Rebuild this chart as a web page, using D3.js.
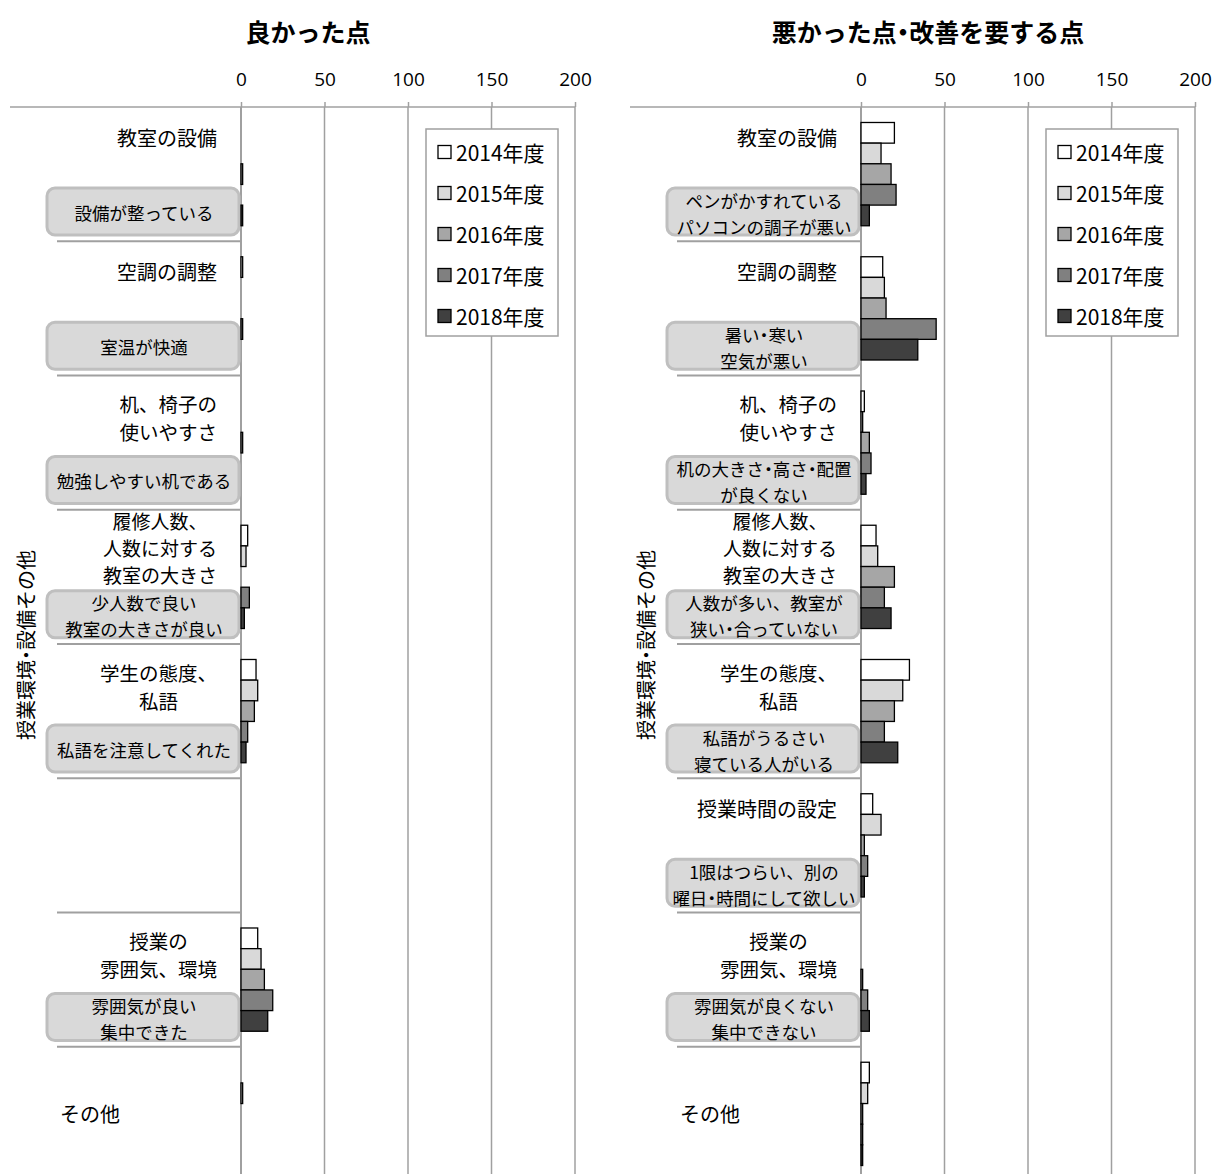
<!DOCTYPE html>
<html>
<head>
<meta charset="utf-8">
<script src="https://cdn.jsdelivr.net/npm/d3@7"></script>
<style>
  body { margin: 0; background: #fff; }
  text { font-family: "Noto Sans CJK JP", "Noto Sans", sans-serif; fill: #000; }
  .narrow { font-feature-settings: "halt"; }
</style>
</head>
<body>
<div id="holder"></div>
<script>
// ---- data ----
const years = ["2014年度", "2015年度", "2016年度", "2017年度", "2018年度"];
const yearColors = ["#ffffff", "#d9d9d9", "#a6a6a6", "#808080", "#404040"];

const categories = [
  "教室の設備", "空調の調整", "机、椅子の\n使いやすさ", "履修人数、\n人数に対する\n教室の大きさ",
  "学生の態度、\n私語", "授業時間の設定", "授業の\n雰囲気、環境", "その他"
];
const goodShown = [true, true, true, true, true, false, true, true];

const goodNotes = [
  "設備が整っている", "室温が快適", "勉強しやすい机である", "少人数で良い\n教室の大きさが良い",
  "私語を注意してくれた", "", "雰囲気が良い\n集中できた", ""
];
const badNotes = [
  "ペンがかすれている\nパソコンの調子が悪い", "暑い・寒い\n空気が悪い", "机の大きさ・高さ・配置\nが良くない",
  "人数が多い、教室が\n狭い・合っていない", "私語がうるさい\n寝ている人がいる",
  "1限はつらい、別の\n曜日・時間にして欲しい", "雰囲気が良くない\n集中できない", ""
];

const good2014 = [0, 1, 0, 4, 9, 0, 10, 0];
const good2015 = [0, 0, 0, 3, 10, 0, 12, 1];
const good2016 = [1, 0, 1, 0, 8, 0, 14, 0];
const good2017 = [0, 1, 0, 5, 4, 0, 19, 0];
const good2018 = [1, 0, 0, 2, 3, 0, 16, 0];

const bad2014 = [20, 13, 2, 9, 29, 7, 0, 5];
const bad2015 = [12, 14, 1, 10, 25, 12, 0, 4];
const bad2016 = [18, 15, 5, 20, 20, 2, 1, 1];
const bad2017 = [21, 45, 6, 14, 14, 4, 4, 1];
const bad2018 = [5, 34, 3, 18, 22, 2, 5, 1];

const xTicks = [0, 50, 100, 150, 200];
const sideLabel = "授業環境・設備その他";

// ---- layout ----
const width = 1216, height = 1174;
const axisY = 107;

const svg = d3.select("#holder").append("svg")
  .attr("width", width)
  .attr("height", height);

const y = d3.scaleBand().domain(categories).range([axisY, 1181]);
const yInner = d3.scaleBand().domain(years).range([0, y.bandwidth()]).paddingInner(0).paddingOuter(0.75);

// half-width middle dot, like the original font
function fillText(t, str) {
  str.split("・").forEach((p, i) => {
    if (i > 0) t.append("tspan").attr("class", "narrow").text("・");
    if (p) t.append("tspan").text(p);
  });
  return t;
}

function drawPanel(x0, title, series, notes, shown) {
  const x = d3.scaleLinear().domain([0, 200]).range([x0, x0 + 334]);
  const g = svg.append("g");

  // title
  fillText(g.append("text")
    .attr("x", x0 + 67).attr("y", 31)
    .attr("text-anchor", "middle").attr("dominant-baseline", "central")
    .style("font-size", "25px").style("font-weight", "bold"), title);

  // grid lines
  g.selectAll(".grid").data(xTicks).enter().append("line")
    .attr("x1", d => x(d)).attr("x2", d => x(d))
    .attr("y1", axisY).attr("y2", height)
    .attr("stroke", "#a0a0a0").attr("stroke-width", d => d === 0 ? 2 : 1.5);

  // axis
  const axis = d3.axisTop(x).tickValues(xTicks).tickSize(5).tickFormat(d3.format("d"));
  const ag = g.append("g").attr("transform", `translate(0,${axisY})`).call(axis);
  ag.select(".domain").remove();
  ag.selectAll(".tick line").attr("stroke", "#a0a0a0").attr("stroke-width", 1.5);
  ag.selectAll(".tick text")
    .attr("y", -28).attr("dy", null).attr("dominant-baseline", "central")
    .style("font-size", "19px").style("font-family", "'Open Sans', sans-serif").attr("fill", "#000");

  g.append("line")
    .attr("x1", x0 - 231).attr("x2", x(200))
    .attr("y1", axisY).attr("y2", axisY)
    .attr("stroke", "#a0a0a0").attr("stroke-width", 1.5);

  // category separators
  g.selectAll(".sep").data(categories.slice(1)).enter().append("line")
    .attr("x1", x0 - 184).attr("x2", x0)
    .attr("y1", d => y(d)).attr("y2", d => y(d))
    .attr("stroke", "#a0a0a0").attr("stroke-width", 2);

  // category labels
  categories.forEach((c, i) => {
    if (!shown[i]) return;
    const lines = c.split("\n");
    const top = y(c);
    if (!notes[i]) {
      g.append("text")
        .attr("x", x0 - 181).attr("y", top + y.bandwidth() / 2)
        .attr("dominant-baseline", "central")
        .style("font-size", "20px").text(c);
      return;
    }
    if (lines.length === 1) {
      g.append("text")
        .attr("x", x0 - 24).attr("y", top + 30)
        .attr("text-anchor", "end").attr("dominant-baseline", "central")
        .style("font-size", "20px").text(c);
      return;
    }
    const three = lines.length === 3;
    const first = three ? 11 : 28;
    const step = three ? 27 : 28;
    const ts = lines.map((ln, k) => g.append("text")
      .attr("y", top + first + k * step)
      .attr("text-anchor", "middle").attr("dominant-baseline", "central")
      .style("font-size", three ? "19px" : "19.5px").text(ln));
    const maxW = d3.max(ts, t => t.node().getComputedTextLength());
    ts.forEach(t => t.attr("x", x0 - 24 - maxW / 2));
  });

  // note boxes
  categories.forEach((c, i) => {
    if (!notes[i]) return;
    const top = y(c);
    g.append("rect")
      .attr("x", x0 - 194).attr("y", top + 81)
      .attr("width", 192).attr("height", 47)
      .attr("rx", 8)
      .attr("fill", "#d9d9d9").attr("stroke", "#bfbfbf").attr("stroke-width", 3);
    const lines = notes[i].split("\n");
    const ys = lines.length === 1 ? [104.5] : [92.5, 118.5];
    lines.forEach((ln, k) => {
      fillText(g.append("text")
        .attr("x", x0 - 97).attr("y", top + ys[k])
        .attr("text-anchor", "middle").attr("dominant-baseline", "central")
        .style("font-size", "17.5px"), ln);
    });
  });

  // bars
  const rows = [];
  categories.forEach((c, i) => {
    years.forEach((yr, j) => {
      rows.push({ cat: c, year: yr, j: j, value: series[j][i] });
    });
  });
  g.selectAll(".bar").data(rows.filter(d => d.value > 0)).enter().append("rect")
    .attr("x", x(0))
    .attr("y", d => y(d.cat) + yInner(d.year))
    .attr("width", d => x(d.value) - x(0))
    .attr("height", yInner.bandwidth())
    .attr("fill", d => yearColors[d.j])
    .attr("stroke", "#000").attr("stroke-width", 1.3);

  // legend
  const lg = g.append("g");
  lg.append("rect")
    .attr("x", x0 + 185).attr("y", 129)
    .attr("width", 132).attr("height", 207)
    .attr("fill", "#fff").attr("stroke", "#a0a0a0").attr("stroke-width", 1.5);
  years.forEach((yr, j) => {
    const cy = 152 + j * 41;
    lg.append("rect")
      .attr("x", x0 + 197).attr("y", cy - 6.5)
      .attr("width", 13).attr("height", 13)
      .attr("fill", yearColors[j]).attr("stroke", "#000").attr("stroke-width", 1.3);
    lg.append("text")
      .attr("x", x0 + 215).attr("y", cy)
      .attr("dominant-baseline", "central")
      .style("font-size", "21px").text(yr);
  });

  // side label
  fillText(g.append("text")
    .attr("transform", `translate(${x0 - 216},645) rotate(-90)`)
    .attr("text-anchor", "middle").attr("dominant-baseline", "central")
    .style("font-size", "20px"), sideLabel);
}

drawPanel(241, "良かった点", [good2014, good2015, good2016, good2017, good2018], goodNotes, goodShown);
drawPanel(861, "悪かった点・改善を要する点", [bad2014, bad2015, bad2016, bad2017, bad2018], badNotes, categories.map(() => true));
</script>
</body>
</html>
